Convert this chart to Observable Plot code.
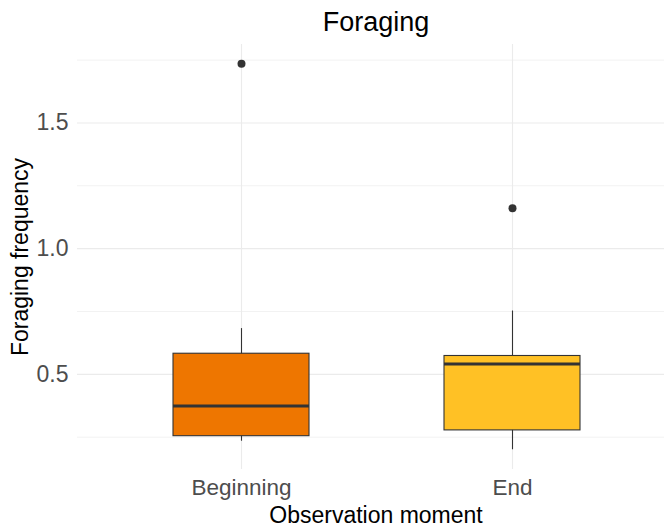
<!DOCTYPE html>
<html>
<head>
<meta charset="utf-8">
<script src="https://cdn.jsdelivr.net/npm/d3@7"></script>
<script src="https://cdn.jsdelivr.net/npm/@observablehq/plot@0.6"></script>
<style>
  html, body { margin: 0; padding: 0; background: white; overflow: hidden; }
  #wrap { position: relative; width: 664px; height: 531px; font-family: "Liberation Sans", Arial, sans-serif; }
  .ttl { position: absolute; left: 77px; width: 598px; text-align: center; line-height: 1; color: #000; white-space: nowrap; }
  #title { top: 9px; font-size: 27px; }
  #xlab { top: 504px; font-size: 23px; }
  #ylab { position: absolute; left: 20px; top: 256.5px; font-size: 23px; line-height: 1; white-space: nowrap;
          transform: translate(-50%, -50%) rotate(-90deg); color: #000; }
</style>
</head>
<body>
<div id="wrap">
  <div id="chart"></div>
  <div id="title" class="ttl">Foraging</div>
  <div id="xlab" class="ttl">Observation moment</div>
  <div id="ylab">Foraging frequency</div>
</div>
<script>
// Data
const categories   = ["Beginning", "End"];
const whiskerLow   = [0.234, 0.200];
const q1           = [0.254, 0.277];
const median       = [0.374, 0.541];
const q3           = [0.582, 0.573];
const whiskerHigh  = [0.682, 0.752];
const fillColors   = ["#EE7600", "#FFC125"];
const outlierGroup = ["Beginning", "End"];
const outlierValue = [1.735, 1.161];
const yMajorTicks  = [0.5, 1.0, 1.5];
const yMinorTicks  = [0.25, 0.75, 1.25, 1.75];

const boxes = categories.map((c, i) => ({
  cat: c, lo: whiskerLow[i], q1: q1[i], med: median[i], q3: q3[i], hi: whiskerHigh[i], fill: fillColors[i]
}));
const outliers = outlierGroup.map((c, i) => ({cat: c, v: outlierValue[i]}));

const chart = Plot.plot({
  width: 664,
  height: 531,
  marginTop: 44,
  marginBottom: 62,
  marginLeft: 77,
  marginRight: 0,
  style: {fontFamily: "'Liberation Sans', Arial, sans-serif", overflow: "hidden", background: "white"},
  x: {type: "band", domain: categories, range: [77, 675], paddingInner: 0.5, paddingOuter: 0.35},
  y: {domain: [0.1215, 1.812]},
  marks: [
    Plot.ruleY(yMinorTicks, {stroke: "#f2f2f2", strokeWidth: 1}),
    Plot.ruleY(yMajorTicks, {stroke: "#ebebeb", strokeWidth: 1.1}),
    Plot.ruleX(categories, {x: d => d, stroke: "#ebebeb", strokeWidth: 1.1}),
    Plot.axisY({ticks: yMajorTicks, tickFormat: d3.format(".1f"), tickSize: 0, tickPadding: 9,
                fontSize: 23, fill: "#4d4d4d", label: null}),
    Plot.axisX({tickSize: 0, tickPadding: 10, fontSize: 22.5, fill: "#4d4d4d", label: null}),
    Plot.ruleX(boxes, {x: "cat", y1: "lo", y2: "hi", stroke: "#333333", strokeWidth: 1.1}),
    Plot.barY(boxes, {x: "cat", y1: "q1", y2: "q3", fill: "fill", stroke: "#333333", strokeWidth: 1.1}),
    Plot.tickY(boxes, {x: "cat", y: "med", stroke: "#333333", strokeWidth: 3}),
    Plot.dot(outliers, {x: "cat", y: "v", r: 4, fill: "#333333", stroke: "none"})
  ]
});
document.getElementById("chart").appendChild(chart);
</script>
</body>
</html>
